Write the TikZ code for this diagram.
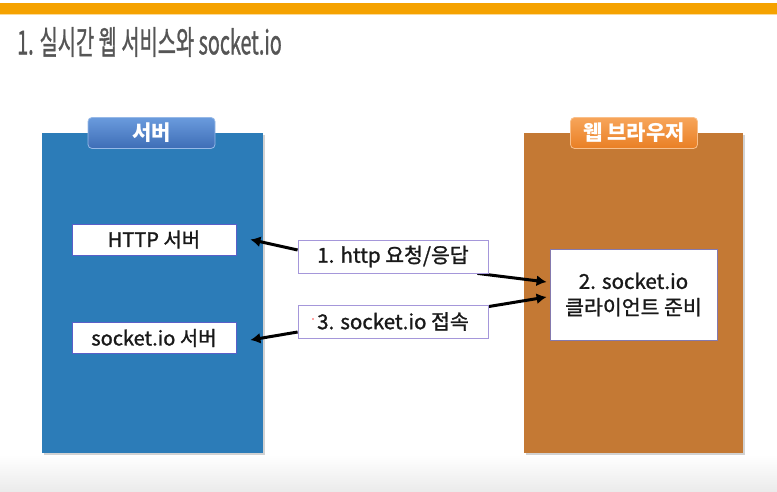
\documentclass[tikz,border=0pt]{standalone}
\usepackage{fontspec}
\setmainfont{Noto Sans CJK KR}
\newfontfamily\heavier{Noto Sans CJK KR}[FakeBold=1.2]
\usetikzlibrary{arrows.meta,shadows,positioning}
\pgfdeclarelayer{panels}
\pgfdeclarelayer{links}
\pgfsetlayers{panels,links,main}
\definecolor{barorange}{HTML}{F5A200}
\definecolor{titlegray}{HTML}{555555}
\definecolor{serverblue}{HTML}{2C7CB8}
\definecolor{browserbrown}{HTML}{C47934}
\definecolor{tabblueT}{HTML}{6A9BDD}
\definecolor{tabblueB}{HTML}{3E6DB6}
\definecolor{taborangeT}{HTML}{F7A55A}
\definecolor{taborangeB}{HTML}{E97F24}
\definecolor{boxedge}{HTML}{5A5FC8}
\definecolor{labeledge}{HTML}{A597DA}
\tikzset{
  panel/.style={anchor=north west, inner sep=0pt,
    drop shadow={shadow xshift=1.5pt, shadow yshift=-2pt, opacity=0.35}},
  tab/.style={rounded corners=4pt, minimum width=127pt, minimum height=31pt,
    inner sep=0pt, text=white, font=\fontsize{21}{21}\selectfont\bfseries},
  svbox/.style={draw=boxedge, line width=0.8pt, fill=white, minimum width=164pt,
    minimum height=31pt, inner sep=0pt, font=\heavier\fontsize{20}{22}\selectfont, text=black!90},
  msgbox/.style={draw=labeledge, line width=0.8pt, fill=white, minimum width=190pt,
    minimum height=33pt, inner sep=0pt, font=\heavier\fontsize{20.5}{22}\selectfont, text=black!90},
  link/.style={line width=3pt, -{Latex[length=10pt,width=11pt]}},
}
\begin{document}
\begin{tikzpicture}[x=1pt,y=-1pt]
\useasboundingbox (0,0) rectangle (777,492);
\begin{pgfonlayer}{panels}
  % page background with a soft grey fade at the foot
  \fill[white] (0,0) rectangle (777,492);
  \shade[top color=white, bottom color=black!8] (0,455) rectangle (777,492);
  % top rule
  \fill[barorange] (0,3) rectangle (777,14);
  \fill[barorange!40] (0,14) rectangle (777,15.5);
  % the two sides
  \node[panel, fill=serverblue, minimum width=221pt, minimum height=320pt] (server) at (42,133) {};
  \node[panel, fill=browserbrown, minimum width=219pt, minimum height=320pt] (browser) at (524,133) {};
\end{pgfonlayer}

% title
\node[anchor=west, text=titlegray, inner sep=0pt] (title) at (17,42)
  {\scalebox{0.6}[1]{\heavier\fontsize{33}{36}\selectfont 1. 실시간 웹 서비스와 socket.io}};

% side captions
\node[tab, top color=tabblueT, bottom color=tabblueB, draw=tabblueT!70!white, line width=0.8pt] (servertab) at (151.5,133) {서버};
\node[tab, top color=taborangeT, bottom color=taborangeB, draw=taborangeT!70!white, line width=0.8pt] (browsertab) at (634,133) {웹 브라우저};

% server parts
\node[svbox] (http) at (154,239.5) {HTTP 서버};
\node[svbox] (sock) at (154,338) {socket.io 서버};

% browser part
\node[draw=labeledge!80!black, line width=0.8pt, fill=white, minimum width=167pt, minimum height=91pt,
  inner sep=0pt, align=center, font=\heavier\fontsize{20.5}{26}\selectfont, text=black!90] (client) at (633.5,294.5)
  {2. socket.io\\클라이언트 준비};

% exchanged messages
\node[msgbox] (req) at (393,256.5) {1. http 요청/응답};
\node[msgbox] (conn) at (393,321.5) {3. socket.io 접속};
\fill[red!70] (313,319) circle (0.8pt);

\begin{pgfonlayer}{links}
  \draw[link] ([yshift=6.5pt]req.west) -- ([xshift=14pt]http.east);
  \draw[link] ([xshift=-11pt]req.south east) -- ([xshift=-3pt,yshift=12.5pt]client.west);
  \draw[link] ([yshift=-2pt]conn.north east) -- ([xshift=-3pt,yshift=-2.5pt]client.west);
  \draw[link] ([yshift=-10.5pt]conn.west) -- ([xshift=14pt,yshift=-2pt]sock.east);
\end{pgfonlayer}
\end{tikzpicture}
\end{document}
